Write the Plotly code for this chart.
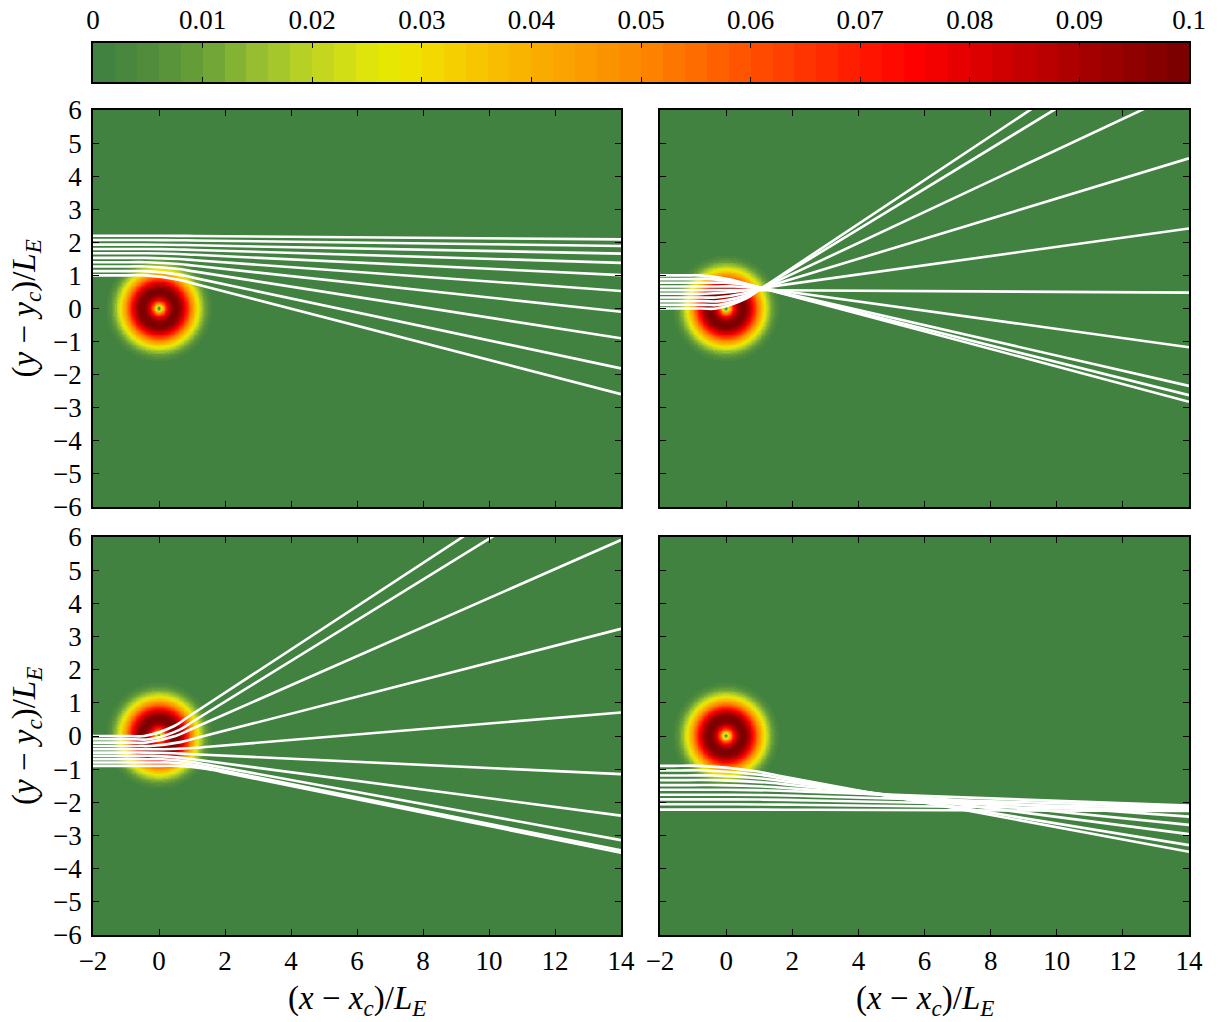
import numpy as np
import plotly.graph_objects as go

W, H = 1218, 1022

# ---------------- data ----------------
# colour bar ticks
cb_tickvals = [0, 0.01, 0.02, 0.03, 0.04, 0.05, 0.06, 0.07, 0.08, 0.09, 0.1]
cb_ticktext = ["0", "0.01", "0.02", "0.03", "0.04", "0.05", "0.06", "0.07", "0.08", "0.09", "0.1"]

# colour map anchors (value, rgb)
cmap_vals = [0.0, 0.005, 0.010, 0.015, 0.020, 0.025, 0.028, 0.032, 0.040,
             0.050, 0.060, 0.070, 0.075, 0.080, 0.090, 0.100]
cmap_r = [62, 80, 105, 150, 190, 222, 236, 245, 250, 252, 255, 255, 255, 225, 170, 120]
cmap_g = [128, 140, 160, 190, 212, 228, 232, 212, 175, 135, 80, 25, 0, 0, 0, 0]
cmap_b = [66, 60, 55, 48, 35, 12, 0, 0, 0, 0, 0, 0, 0, 0, 0, 0]
n_bands = 50

# radial profile of the ring intensity (distance from centre / L_E, value)
ring_r = [0.00, 0.04, 0.08, 0.12, 0.18, 0.25, 0.32, 0.40, 0.50, 0.60, 0.70,
          0.80, 0.90, 1.00, 1.10, 1.20, 1.30, 1.40, 1.50, 1.60, 1.75]
ring_val = [0.000, 0.012, 0.026, 0.040, 0.058, 0.075, 0.087, 0.096, 0.100, 0.097, 0.088,
            0.075, 0.061, 0.047, 0.035, 0.025, 0.016, 0.010, 0.005, 0.002, 0.000]

x_ticks = [-2, 0, 2, 4, 6, 8, 10, 12, 14]
x_ticktext = ["\u22122", "0", "2", "4", "6", "8", "10", "12", "14"]
y_ticks = [-6, -5, -4, -3, -2, -1, 0, 1, 2, 3, 4, 5, 6]
y_ticktext = ["\u22126", "\u22125", "\u22124", "\u22123", "\u22122", "\u22121",
              "0", "1", "2", "3", "4", "5", "6"]

# trajectories: start height at x=-2, height reached at x=14, turning x
p1_y_start = [2.20, 2.07, 1.93, 1.80, 1.67, 1.53, 1.40, 1.27, 1.13, 1.00]
p1_y_end = [2.09, 1.89, 1.66, 1.38, 1.01, 0.53, -0.10, -0.90, -1.81, -2.59]
p1_x_turn = [0.1, 0.1, 0.1, 0.1, 0.1, 0.1, 0.1, 0.1, 0.1, 0.1]

p2_y_start = [0.00, 0.111, 0.222, 0.333, 0.444, 0.556, 0.667, 0.778, 0.889, 1.00]
p2_y_end = [9.19, 8.49, 6.67, 4.54, 2.42, 0.48, -1.17, -2.34, -2.62, -2.82]
p2_x_turn = [0.15, 0.25, 0.25, 0.15, -0.2, 0.5, 0.7, 0.4, 0.0, -0.35]

p3_y_start = [0.00, -0.10, -0.20, -0.30, -0.40, -0.50, -0.60, -0.70, -0.80, -0.90]
p3_y_end = [9.13, 8.40, 5.91, 3.23, 0.71, -1.15, -2.40, -3.14, -3.45, -3.52]
p3_x_turn = [0.0, 0.15, 0.05, 0.2, 0.6, 0.0, 0.25, 0.55, 0.75, 1.0]

p4_y_start = [-0.90, -1.04, -1.19, -1.33, -1.48, -1.62, -1.77, -1.91, -2.06, -2.22]
p4_y_end = [-3.49, -3.29, -2.96, -2.68, -2.43, -2.10, -2.14, -2.18, -2.22, -2.26]
p4_x_turn = [0.0, 0.2, 0.4, 0.5, 0.6, 0.8, 1.0, 1.0, 1.0, 1.0]

# ---------------- colours ----------------
band_centres = [(k + 0.5) * 0.1 / n_bands for k in range(n_bands)]
band_cols = []
for v in band_centres:
    r = int(round(np.interp(v, cmap_vals, cmap_r)))
    g = int(round(np.interp(v, cmap_vals, cmap_g)))
    b = int(round(np.interp(v, cmap_vals, cmap_b)))
    band_cols.append(f"rgb({r},{g},{b})")
colorscale = []
for k, c in enumerate(band_cols):
    colorscale.append([k / n_bands, c])
    colorscale.append([(k + 1) / n_bands, c])
bg = band_cols[0]

FONT = "Liberation Serif"

# ---------------- layout geometry ----------------
def fx(px):
    return px / W

def fy(py):
    return 1 - py / H

panels = [
    dict(xd=[fx(93), fx(621)], yd=[fy(507), fy(110)], xl=False, yl=True),
    dict(xd=[fx(660), fx(1189)], yd=[fy(507), fy(110)], xl=False, yl=False),
    dict(xd=[fx(93), fx(621)], yd=[fy(935), fy(537)], xl=True, yl=True),
    dict(xd=[fx(660), fx(1189)], yd=[fy(935), fy(537)], xl=True, yl=False),
]
trajs = [
    (p1_y_start, p1_y_end, p1_x_turn, 0.5),
    (p2_y_start, p2_y_end, p2_x_turn, 0.45),
    (p3_y_start, p3_y_end, p3_x_turn, 0.45),
    (p4_y_start, p4_y_end, p4_x_turn, 0.8),
]

fig = go.Figure()

# ring field
hx = np.arange(-1.8, 1.8001, 0.025)
hy = np.arange(-1.8, 1.8001, 0.025)
XX, YY = np.meshgrid(hx, hy)
RR = np.sqrt(XX ** 2 + YY ** 2)
ZZ = np.interp(RR, ring_r, ring_val, right=0.0)

for i, p in enumerate(panels):
    ax = "" if i == 0 else str(i + 1)
    fig.add_trace(go.Heatmap(x=hx, y=hy, z=ZZ, zmin=0, zmax=0.1, colorscale=colorscale,
                             showscale=False, hoverinfo="skip",
                             xaxis="x" + ax, yaxis="y" + ax))
    ys0, ys1, xt, d = trajs[i]
    for y0, y1, xc in zip(ys0, ys1, xt):
        s = (y1 - y0) / (14 - xc)
        xs = [-2, xc - 2 * d, xc - d, xc + d, xc + 2 * d, 14]
        yv = [y0, y0, y0, y0 + s * d, y0 + 2 * s * d, y1]
        fig.add_trace(go.Scatter(x=xs, y=yv, mode="lines",
                                 line=dict(color="white", width=2.6, shape="spline", smoothing=1.0),
                                 showlegend=False, hoverinfo="skip",
                                 xaxis="x" + ax, yaxis="y" + ax))

# colour bar as its own heatmap strip
fig.add_trace(go.Heatmap(x=band_centres, y=[0], z=[band_centres], zmin=0, zmax=0.1,
                         colorscale=colorscale, showscale=False, hoverinfo="skip",
                         xaxis="x5", yaxis="y5"))

axis_common = dict(showline=True, linecolor="black", linewidth=1.8, mirror="ticks",
                   ticks="inside", ticklen=6, tickwidth=1.2, tickcolor="black",
                   showgrid=False, zeroline=False, automargin=False,
                   tickfont=dict(family=FONT, size=27, color="black"))

layout = dict(width=W, height=H,
              margin=dict(l=0, r=0, t=0, b=0, pad=0, autoexpand=False),
              paper_bgcolor="white", plot_bgcolor=bg, showlegend=False)

for i, p in enumerate(panels):
    ax = "" if i == 0 else str(i + 1)
    layout["xaxis" + ax] = dict(axis_common, domain=p["xd"], range=[-2, 14],
                                anchor="y" + ax, tickvals=x_ticks, ticktext=x_ticktext,
                                showticklabels=p["xl"], ticklabelstandoff=1)
    layout["yaxis" + ax] = dict(axis_common, domain=p["yd"], range=[-6, 6],
                                anchor="x" + ax, tickvals=y_ticks, ticktext=y_ticktext,
                                showticklabels=p["yl"], ticklabelstandoff=4)

layout["xaxis5"] = dict(axis_common, domain=[fx(93), fx(1189)], range=[0, 0.1], anchor="y5",
                        side="top", tickvals=cb_tickvals, ticktext=cb_ticktext,
                        ticklen=5, ticklabelstandoff=1, linewidth=2)
layout["yaxis5"] = dict(showline=True, linecolor="black", linewidth=2, mirror=True,
                        domain=[fy(82), fy(43)], range=[-0.5, 0.5], anchor="x5",
                        showticklabels=False, ticks="", showgrid=False, zeroline=False,
                        automargin=False)

xt_txt = "(<i>x</i> \u2212 <i>x</i><sub><i>c</i></sub>)/<i>L</i><sub><i>E</i></sub>"
yt_txt = "(<i>y</i> \u2212 <i>y</i><sub><i>c</i></sub>)/<i>L</i><sub><i>E</i></sub>"
tfont = dict(family=FONT, size=33, color="black")
layout["annotations"] = [
    dict(text=xt_txt, x=fx(357), y=fy(1000), xref="paper", yref="paper",
         showarrow=False, font=tfont, xanchor="center", yanchor="middle"),
    dict(text=xt_txt, x=fx(924.5), y=fy(1000), xref="paper", yref="paper",
         showarrow=False, font=tfont, xanchor="center", yanchor="middle"),
    dict(text=yt_txt, x=fx(26), y=fy(308.5), xref="paper", yref="paper", textangle=-90,
         showarrow=False, font=tfont, xanchor="center", yanchor="middle"),
    dict(text=yt_txt, x=fx(26), y=fy(736), xref="paper", yref="paper", textangle=-90,
         showarrow=False, font=tfont, xanchor="center", yanchor="middle"),
]

fig.update_layout(**layout)
fig.write_html("out.html")
